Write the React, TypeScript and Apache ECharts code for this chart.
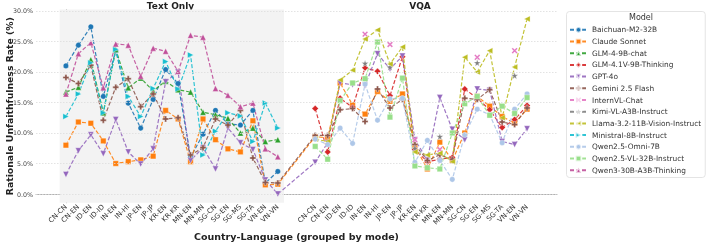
import React, { useEffect, useRef } from 'react';
import * as echarts from 'echarts';

const CATEGORIES = ['CN-CN', 'CN-EN', 'ID-EN', 'ID-ID', 'IN-EN', 'IN-HI', 'JP-EN', 'JP-JP', 'KR-EN', 'KR-KR', 'MN-EN', 'MN-MN', 'SG-CN', 'SG-EN', 'SG-MS', 'SG-TA', 'VN-EN', 'VN-VN'];
const VQA_OFFSET = 20;
const Y_TICKS = [0, 5, 10, 15, 20, 25, 30];
const MODE_TITLES = ['Text Only', 'VQA'];

// Text Only values (%)
const baichuanText = [21.0, 24.4, 27.4, 16.0, 23.5, 14.9, 10.8, 15.5, 20.4, 18.1, 6.0, 9.8, 13.7, 11.5, 11.3, 13.7, 1.8, 3.7];
const claudeText = [8.0, 11.8, 11.6, 8.7, 5.0, 5.3, 5.6, 6.2, 13.7, 12.3, 5.3, 12.3, 8.9, 7.4, 6.9, 12.0, 1.5, 1.6];
const glm4Text = [16.7, 17.5, 22.0, 13.3, 23.7, 17.4, 19.0, 16.9, 18.5, 17.1, 16.7, 13.4, 13.0, 12.4, 10.0, 10.8, 8.6, 8.9];
const gpt4oText = [3.2, 7.1, 9.7, 6.6, 12.2, 6.9, 4.9, 7.4, 18.4, 20.0, 5.5, 7.6, 4.1, 10.8, 8.4, 7.3, 2.3, 0.0];
const geminiText = [19.1, 18.1, 21.1, 12.1, 17.5, 18.9, 14.3, 16.4, 12.3, 12.5, 6.4, 7.6, 12.3, 11.3, 13.7, 5.9, 1.9, 1.8];
const ministralText = [12.7, 16.4, 21.5, 13.3, 23.7, 16.0, 12.7, 17.3, 21.7, 17.2, 22.8, 6.4, 10.3, 13.3, 12.8, 8.6, 14.9, 10.8];
const qwen3Text = [16.4, 23.0, 24.8, 17.4, 24.6, 24.4, 19.3, 23.9, 23.4, 20.1, 26.0, 25.7, 17.3, 16.2, 14.3, 14.9, 7.4, 6.1];

// VQA values (%)
const claudeVqa = [9.4, 9.2, 18.2, 14.6, 13.1, 16.8, 15.2, 16.4, 7.8, 4.1, 8.5, 5.5, 10.0, 16.0, 14.4, 12.7, 11.6, 13.9];
const glm41vVqa = [14.0, 6.9, 15.7, 14.2, 20.7, 20.1, 16.1, 22.5, 7.3, 5.3, 5.7, 6.0, 17.2, 15.7, 13.8, 10.9, 12.2, 14.5];
const gpt4oVqa = [5.2, 8.4, 18.2, 17.9, 17.8, 23.0, 20.5, 22.6, 8.9, 5.6, 15.8, 10.6, 8.9, 17.2, 17.0, 8.6, 8.1, 10.7];
const geminiVqa = [9.6, 9.6, 13.8, 14.0, 11.9, 17.2, 14.1, 15.5, 8.1, 5.5, 6.4, 5.7, 15.7, 15.5, 17.1, 11.8, 11.4, 14.1];
const internvlVqa = [null, null, null, null, 26.2, null, 24.5, null, 8.9, null, 7.3, null, null, 22.4, null, null, 23.5, null];
const kimiVqa = [null, null, null, null, 21.4, null, 20.8, null, 7.5, null, 9.4, null, null, 21.5, null, null, 19.4, null];
const llamaVqa = [9.0, 8.6, 18.7, 20.3, 25.4, 26.9, 21.3, 24.1, 6.9, 6.4, 6.7, 5.3, 22.4, 20.0, 23.5, 12.5, 20.8, 28.7];
const qwenOmniVqa = [9.0, 8.1, 10.8, 8.3, 18.0, 12.1, 15.6, 15.7, 5.2, 8.8, 5.5, 2.4, 9.7, 13.9, 13.0, 8.4, 13.9, 16.4];
const qwenVlVqa = [7.8, 5.7, 15.3, 18.2, 18.9, 24.9, 12.6, 19.0, 4.6, 4.3, 4.1, 10.0, 14.8, 16.0, 12.9, 14.4, 13.2, 15.8];

const TRI_DOWN = 'path://M0,0 L10,0 L5,9 Z';
const TRI_LEFT = 'path://M0,5 L9,0 L9,10 Z';
const TRI_RIGHT = 'path://M9,5 L0,0 L0,10 Z';
const PLUS = 'path://M3.3,0 H6.7 V3.3 H10 V6.7 H6.7 V10 H3.3 V6.7 H0 V3.3 H3.3 Z';
const XMARK = 'path://M2,0 L5,3 L8,0 L10,2 L7,5 L10,8 L8,10 L5,7 L2,10 L0,8 L3,5 L0,2 Z';
const STAR = 'path://M5,0 L6.2,3.6 L10,3.6 L6.9,5.9 L8.1,9.5 L5,7.3 L1.9,9.5 L3.1,5.9 L0,3.6 L3.8,3.6 Z';

type Model = { name: string; color: string; symbol: string; size: number; text: (number | null)[] | null; vqa: (number | null)[] | null };

const MODELS: Model[] = [
  { name: 'Baichuan-M2-32B', color: '#1f77b4', symbol: 'circle', size: 5.5, text: baichuanText, vqa: null },
  { name: 'Claude Sonnet', color: '#ff7f0e', symbol: 'rect', size: 5.5, text: claudeText, vqa: claudeVqa },
  { name: 'GLM-4-9B-chat', color: '#2ca02c', symbol: 'triangle', size: 6, text: glm4Text, vqa: null },
  { name: 'GLM-4.1V-9B-Thinking', color: '#d62728', symbol: 'diamond', size: 6.5, text: null, vqa: glm41vVqa },
  { name: 'GPT-4o', color: '#9467bd', symbol: TRI_DOWN, size: 6, text: gpt4oText, vqa: gpt4oVqa },
  { name: 'Gemini 2.5 Flash', color: '#8c564b', symbol: PLUS, size: 6, text: geminiText, vqa: geminiVqa },
  { name: 'InternVL-Chat', color: '#e377c2', symbol: XMARK, size: 6, text: null, vqa: internvlVqa },
  { name: 'Kimi-VL-A3B-Instruct', color: '#7f7f7f', symbol: STAR, size: 7, text: null, vqa: kimiVqa },
  { name: 'Llama-3.2-11B-Vision-Instruct', color: '#bcbd22', symbol: TRI_LEFT, size: 6, text: null, vqa: llamaVqa },
  { name: 'Ministral-8B-Instruct', color: '#17becf', symbol: TRI_RIGHT, size: 6, text: ministralText, vqa: null },
  { name: 'Qwen2.5-Omni-7B', color: '#aec7e8', symbol: 'circle', size: 5.5, text: null, vqa: qwenOmniVqa },
  { name: 'Qwen2.5-VL-32B-Instruct', color: '#98df8a', symbol: 'rect', size: 5.5, text: null, vqa: qwenVlVqa },
  { name: 'Qwen3-30B-A3B-Thinking', color: '#c0509a', symbol: 'triangle', size: 6, text: qwen3Text, vqa: null },
];

const FONT = 'DejaVu Sans';

function labelFor(v: number): string {
  const i = Math.round(v);
  if (i >= 0 && i < CATEGORIES.length) return CATEGORIES[i];
  if (i >= VQA_OFFSET && i < VQA_OFFSET + CATEGORIES.length) return CATEGORIES[i - VQA_OFFSET];
  return '';
}

export default function App() {
  const ref = useRef<HTMLDivElement>(null);
  useEffect(() => {
    if (!ref.current) return;
    const chart = echarts.init(ref.current, undefined, { renderer: 'svg' });
    const positions: number[] = [];
    CATEGORIES.forEach((_, i) => positions.push(i));
    CATEGORIES.forEach((_, i) => positions.push(VQA_OFFSET + i));

    const series: any[] = [
      {
        type: 'line',
        name: '__bg',
        data: [],
        silent: true,
        z: 1,
        markArea: {
          silent: true,
          itemStyle: { color: '#f3f3f3' },
          data: [[{ xAxis: -0.5 }, { xAxis: CATEGORIES.length - 0.5 }]],
        },
        markLine: {
          silent: true,
          symbol: 'none',
          label: { show: false },
          lineStyle: { color: '#dcdcdc', width: 0.8, type: [1.5, 1.5] },
          data: Y_TICKS.map((v) => ({ yAxis: v })),
        },
      },
    ];
    MODELS.forEach((m) => {
      const data: any[] = [];
      if (m.text) m.text.forEach((v, i) => data.push([i, v == null ? '-' : v]));
      if (m.vqa) m.vqa.forEach((v, i) => data.push([VQA_OFFSET + i, v == null ? '-' : v]));
      series.push({
        type: 'line',
        name: m.name,
        data,
        z: 2,
        symbol: m.symbol,
        symbolSize: m.size,
        showSymbol: true,
        connectNulls: false,
        itemStyle: { color: m.color, borderColor: 'rgba(255,255,255,0.7)', borderWidth: 0.5 },
        lineStyle: { color: m.color, width: 1.2, type: [4, 2], opacity: 0.9 },
        emphasis: { disabled: true },
      });
    });

    chart.setOption({
      animation: false,
      textStyle: { fontFamily: FONT },
      grid: { left: 36, right: 161, top: 9.5, bottom: 40.2, containLabel: false, outerBoundsMode: 'none' },
      xAxis: {
        type: 'value',
        min: -2.4,
        max: 39.4,
        name: 'Country-Language (grouped by mode)',
        nameLocation: 'middle',
        nameGap: 29,
        nameMoveOverlap: false,
        nameTextStyle: { fontFamily: FONT, fontWeight: 'bold', fontSize: 9.5, color: '#222' },
        axisLine: { show: true, lineStyle: { color: '#b0b0b0', width: 1 } },
        axisTick: { show: false },
        splitLine: { show: false },
        axisLabel: {
          customValues: positions,
          rotate: 45,
          fontSize: 7,
          color: '#333',
          margin: 3,
          fontFamily: FONT,
          formatter: (v: number) => labelFor(v),
        },
      },
      yAxis: {
        type: 'value',
        min: -1.44,
        max: 30.24,
        name: 'Rationale Unfaithfulness Rate (%)',
        nameLocation: 'middle',
        nameGap: 22,
        nameMoveOverlap: false,
        nameTextStyle: { fontFamily: FONT, fontWeight: 'bold', fontSize: 9.3, color: '#222' },
        axisLine: { show: true, lineStyle: { color: '#b0b0b0', width: 1 } },
        axisTick: { show: false, customValues: Y_TICKS },
        splitLine: { show: false },
        axisLabel: {
          customValues: Y_TICKS,
          fontSize: 6.3,
          color: '#444',
          margin: 3,
          fontFamily: FONT,
          formatter: (v: number) => (Y_TICKS.includes(v) ? v.toFixed(1) + '%' : ''),
        },
      },
      legend: {
        orient: 'vertical',
        left: 566.5,
        top: 11.5,
        data: MODELS.map((m) => m.name),
        padding: [14.5, 4, 3.5, 2.5],
        itemGap: 4.1,
        itemWidth: 17,
        itemHeight: 7,
        borderColor: '#dddddd',
        borderWidth: 0.8,
        borderRadius: 3,
        backgroundColor: '#ffffff',
        textStyle: { fontSize: 7.4, color: '#333', fontFamily: FONT, lineHeight: 7 },
      },
      graphic: [
        { type: 'text', x: 170.5, y: 1, style: { text: MODE_TITLES[0], align: 'center', verticalAlign: 'top', fill: '#222', font: `bold 9px "${FONT}"` } },
        { type: 'text', x: 420, y: 1, style: { text: MODE_TITLES[1], align: 'center', verticalAlign: 'top', fill: '#222', font: `bold 9px "${FONT}"` } },
        { type: 'text', x: 641, y: 13, z: 100, style: { text: 'Model', align: 'center', verticalAlign: 'top', fill: '#333', font: `8px "${FONT}"` } },
      ],
      series,
    });
    return () => chart.dispose();
  }, []);
  return <div ref={ref} style={{ position: 'fixed', left: 0, top: 0, width: 718, height: 243 }} />;
}
